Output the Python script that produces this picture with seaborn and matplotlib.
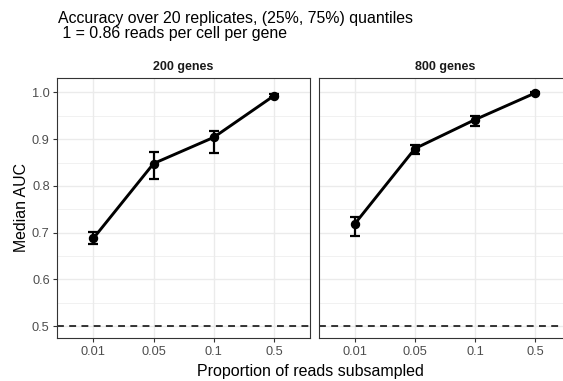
import numpy as np
import pandas as pd
import matplotlib
matplotlib.use("Agg")
import matplotlib.pyplot as plt
from matplotlib.ticker import MultipleLocator
import seaborn as sns

# Median AUC and (25%, 75%) quantiles across 20 replicates
proportions = ["0.01", "0.05", "0.1", "0.5"]
panels = ["200 genes", "800 genes"]
median_200 = [0.688, 0.848, 0.904, 0.993]
q25_200 = [0.676, 0.814, 0.871, 0.990]
q75_200 = [0.701, 0.872, 0.917, 0.996]
median_800 = [0.719, 0.880, 0.942, 0.999]
q25_800 = [0.694, 0.869, 0.929, 0.998]
q75_800 = [0.734, 0.887, 0.949, 1.000]
baseline_auc = 0.5

df = pd.DataFrame({
    "proportion": proportions * 2,
    "genes": [panels[0]] * 4 + [panels[1]] * 4,
    "median": median_200 + median_800,
    "q25": q25_200 + q25_800,
    "q75": q75_200 + q75_800,
})

sns.set_theme(style="white")
plt.rcParams["font.family"] = ["Liberation Sans", "DejaVu Sans"]

W, H = 563, 381
fig = plt.figure(figsize=(W / 100, H / 100), dpi=100)

panel_w = 252.7
lefts = [57.3, 318.7]
top, bottom = 78.0, 338.0

grid_major = "#EBEBEB"
axes = []
for i, (name, left) in enumerate(zip(panels, lefts)):
    ax = fig.add_axes([left / W, 1 - bottom / H, panel_w / W, (bottom - top) / H])
    axes.append(ax)
    sub = df[df["genes"] == name].reset_index(drop=True)

    ax.axhline(baseline_auc, color="black", lw=1.1, ls=(0, (4.5, 3.5)), zorder=2)

    xpos = np.arange(len(proportions))
    ax.errorbar(xpos, sub["median"],
                yerr=[sub["median"] - sub["q25"], sub["q75"] - sub["median"]],
                fmt="none", ecolor="black", elinewidth=1.6, capsize=3.4,
                capthick=1.6, zorder=3)
    sns.pointplot(data=sub, x="proportion", y="median", order=proportions,
                  color="black", errorbar=None, markers="o", linestyles="-",
                  linewidth=2.1, markersize=5.2, ax=ax, zorder=4)

    ax.set_xlim(-0.6, 3.6)
    ax.set_ylim(0.4747, 1.031)
    ax.yaxis.set_major_locator(MultipleLocator(0.1))
    ax.yaxis.set_minor_locator(MultipleLocator(0.05))
    ax.grid(True, which="major", color=grid_major, lw=1.0, zorder=0)
    ax.grid(True, which="minor", axis="y", color=grid_major, lw=0.5, zorder=0)
    ax.set_axisbelow(True)

    for sp in ax.spines.values():
        sp.set_color("#333333")
        sp.set_linewidth(0.8)
        sp.set_visible(True)

    ax.tick_params(axis="both", which="major", length=3, width=0.8,
                   color="#333333", labelcolor="#4D4D4D", labelsize=9.2, pad=2.5,
                   bottom=True, left=(i == 0))
    ax.tick_params(axis="y", which="minor", length=0)
    ax.set_xlabel("")
    ax.set_ylabel("")
    if i == 1:
        ax.tick_params(axis="y", labelleft=False)
    ax.set_title(name, fontsize=9, fontweight="bold", color="#1A1A1A", pad=6)

fig.text((57.3 + 563) / 2 / W, 1 - 376 / H, "Proportion of reads subsampled",
         ha="center", va="baseline", fontsize=11.5, color="black")
fig.text(21.5 / W, 1 - ((top + bottom) / 2) / H, "Median AUC", rotation=90,
         ha="center", va="center", fontsize=11.4, color="black")
fig.text(58.3 / W, 1 - 22.5 / H,
         "Accuracy over 20 replicates, (25%, 75%) quantiles",
         ha="left", va="baseline", fontsize=11.4, color="black")
fig.text(58.3 / W, 1 - 38.3 / H,
         " 1 = 0.86 reads per cell per gene",
         ha="left", va="baseline", fontsize=11.4, color="black")

fig.savefig("out.png", dpi=100)
